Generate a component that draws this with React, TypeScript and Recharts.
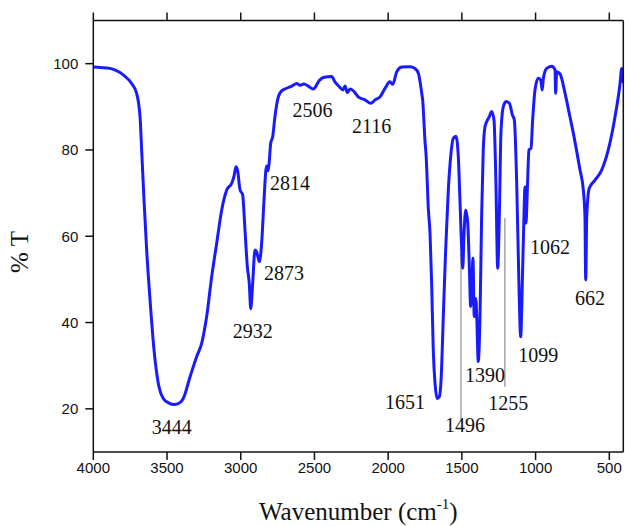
import React from 'react';
import {
  ComposedChart,
  Line,
  XAxis,
  YAxis,
  ReferenceDot,
  ReferenceLine,
} from 'recharts';

// Spectrum (wavenumber in cm^-1, % transmittance)
const wavenumbers = [
  4000, 3950, 3887, 3850, 3797, 3740, 3706, 3683, 3672, 3656, 3638, 3615, 3588, 3559, 3525, 3490,
  3446, 3410, 3390, 3344, 3299, 3265, 3231, 3197, 3163, 3129, 3095, 3061, 3045, 3032, 3020, 3005,
  2987, 2971, 2955, 2942, 2932, 2919, 2903, 2892, 2874, 2858, 2842, 2829, 2822, 2814, 2806, 2797,
  2783, 2768, 2745, 2722, 2688, 2654, 2620, 2598, 2571, 2542, 2508, 2467, 2440, 2383, 2361, 2327,
  2308, 2293, 2277, 2259, 2236, 2203, 2157, 2118, 2089, 2055, 2021, 1988, 1969, 1942, 1908, 1852,
  1818, 1795, 1772, 1766, 1750, 1743, 1727, 1716, 1705, 1694, 1682, 1667, 1653, 1640, 1626, 1610,
  1592, 1576, 1558, 1540, 1524, 1513, 1501, 1494, 1486, 1474, 1460, 1450, 1440, 1431, 1425, 1416,
  1406, 1399, 1389, 1377, 1366, 1355, 1343, 1328, 1314, 1298, 1282, 1269, 1257, 1246, 1235, 1219,
  1200, 1178, 1157, 1144, 1128, 1113, 1101, 1090, 1079, 1072, 1065, 1056, 1045, 1031, 1020, 1004,
  982, 965, 955, 947, 925, 891, 868, 864, 857, 834, 800, 767, 744, 699, 676, 665,
  660, 653, 636, 597, 551, 507, 461, 427, 416, 405,
];
const transmittance = [
  99.2, 99.1, 98.9, 98.5, 97.4, 95.4, 93.1, 87.7, 80, 68.4, 56.8, 45.2, 33.6, 25.9, 22.4, 21.4,
  21.0, 21.5, 22.4, 27.4, 32.1, 35.2, 41.4, 50.6, 58.4, 66.1, 70.7, 72.3, 74, 76.1, 75, 70.8,
  69.6, 61.4, 52.9, 49.1, 43.2, 49.1, 56.8, 56.4, 54.1, 58.4, 68.4, 75.4, 76.3, 75.2, 77.5, 81.5,
  83.1, 87.7, 92.3, 93.7, 94.3, 94.8, 95.4, 95.0, 95.3, 94.8, 94.1, 96.1, 96.8, 97, 95.8, 94.5,
  93.9, 94.8, 93.3, 94.1, 93.7, 92.3, 91.6, 90.8, 91.6, 92.3, 94.3, 95.8, 95.2, 98.1, 99.2, 99.3,
  98.9, 97.8, 93.1, 91.6, 82, 79, 66.1, 60.7, 49.1, 33.6, 25.9, 22.4, 22.8, 27.4, 41.4, 56.8,
  70.7, 78.4, 82.7, 83.2, 78.4, 68.4, 56.8, 52.6, 59.9, 66.1, 63, 53.7, 43.7, 49.1, 54.9, 41.4,
  45.6, 41.4, 31, 41.4, 64.5, 80, 85.4, 86.8, 87.7, 88.9, 86.9, 72.3, 52.6, 64.5, 83.9, 90,
  91.2, 90.8, 88.1, 86.9, 72.3, 49.1, 36.7, 49.1, 64.5, 71.5, 63, 70.7, 80, 80.4, 86.9, 93.9,
  96.6, 96.2, 93.9, 96.6, 98.9, 99.4, 98.6, 93.1, 98.1, 97.6, 93.1, 87.7, 83.9, 75.4, 70.7, 64.5,
  49.9, 64.5, 71.1, 73, 75.4, 80, 87.7, 95.4, 98.9, 95.5,
];

// Peak annotations
const peakLabels = ['3444', '2932', '2873', '2814', '2506', '2116', '1651', '1496', '1390', '1255', '1099', '1062', '662'];
const peakLabelWn = [3468, 2919, 2706, 2666, 2514, 2112, 1886, 1479, 1343, 1185, 982, 902, 631];
const peakLabelT = [15.9, 38.1, 51.4, 72.4, 89.3, 85.6, 21.7, 16.3, 27.8, 21.3, 32.5, 57.6, 45.6];

// Thin leader lines
const leaderWn = [1506, 1208];
const leaderTop = [56, 64.2];
const leaderBottom = [17.5, 25.1];

const xTicks = [4000, 3500, 3000, 2500, 2000, 1500, 1000, 500];
const yTicks = [20, 40, 60, 80, 100];
const xDomain = [405, 4000];
const yDomain = [10, 110];

const spectrum = wavenumbers.map((wn, i) => ({ wn, t: transmittance[i] }));

const SANS = '"Liberation Sans", Arial, sans-serif';
const SERIF = '"Liberation Serif", "Times New Roman", serif';

const XTitle = (props: any) => {
  const vb = props.viewBox || {};
  const cx = vb.x + vb.width / 2;
  const y = vb.y + vb.height - 6;
  return (
    <text x={cx} y={y} textAnchor="middle" fontFamily={SERIF} fontSize={25} fill="#111">
      Wavenumber (cm
      <tspan fontSize={15} dy={-11}>-1</tspan>
      <tspan dy={11}>)</tspan>
    </text>
  );
};

export default function App() {
  return (
    <div style={{ position: 'absolute', left: 0, top: 0, width: 625, height: 526, background: '#fff' }}>
      <ComposedChart width={625} height={526} margin={{ top: 19.5, right: 0.7, bottom: 0, left: 0 }}>
        <XAxis
          dataKey="wn"
          type="number"
          domain={xDomain}
          reversed
          allowDataOverflow
          ticks={xTicks}
          height={74}
          tickSize={8}
          tick={{ fontFamily: SANS, fontSize: 15, fill: '#111' }}
          axisLine={{ stroke: '#111', strokeWidth: 1.5 }}
          tickLine={{ stroke: '#111', strokeWidth: 1.5 }}
          label={<XTitle />}
        />
        <XAxis
          xAxisId="top"
          orientation="top"
          dataKey="wn"
          type="number"
          domain={xDomain}
          reversed
          allowDataOverflow
          ticks={xTicks}
          height={1}
          tickSize={8}
          tickFormatter={() => ''}
          axisLine={{ stroke: '#111', strokeWidth: 1.5 }}
          tickLine={{ stroke: '#111', strokeWidth: 1.5 }}
        />
        <YAxis
          type="number"
          domain={yDomain}
          allowDataOverflow
          ticks={yTicks}
          width={93.3}
          tickSize={8}
          tickMargin={7}
          tick={{ fontFamily: SANS, fontSize: 15, fill: '#111' }}
          axisLine={{ stroke: '#111', strokeWidth: 1.5 }}
          tickLine={{ stroke: '#111', strokeWidth: 1.5 }}
          label={() => {
            const cx = 19;
            const cy = 252;
            return (
              <text
                x={cx}
                y={cy}
                transform={`rotate(-90, ${cx}, ${cy})`}
                textAnchor="middle"
                dominantBaseline="central"
                fontFamily={SERIF}
                fontSize={25}
                fill="#111"
              >
                % T
              </text>
            );
          }}
        />
        <YAxis
          yAxisId="right"
          orientation="right"
          type="number"
          domain={yDomain}
          width={1}
          tick={false}
          tickLine={false}
          axisLine={{ stroke: '#111', strokeWidth: 1.5 }}
        />
        {leaderWn.map((wn, i) => (
          <ReferenceLine
            key={'l' + i}
            segment={[
              { x: wn, y: leaderTop[i] },
              { x: wn, y: leaderBottom[i] },
            ]}
            stroke="#777"
            strokeWidth={1}
          />
        ))}
        <Line
          data={spectrum}
          dataKey="t"
          type="monotone"
          stroke="#1a1aff"
          strokeWidth={3}
          dot={false}
          isAnimationActive={false}
        />
        {peakLabels.map((txt, i) => (
          <ReferenceDot
            key={'p' + i}
            x={peakLabelWn[i]}
            y={peakLabelT[i]}
            r={0}
            shape={(p: any) => (
              <text
                x={p.cx}
                y={p.cy}
                textAnchor="middle"
                dominantBaseline="central"
                fontFamily={SERIF}
                fontSize={20}
                fill="#111"
              >
                {txt}
              </text>
            )}
          />
        ))}
      </ComposedChart>
    </div>
  );
}
